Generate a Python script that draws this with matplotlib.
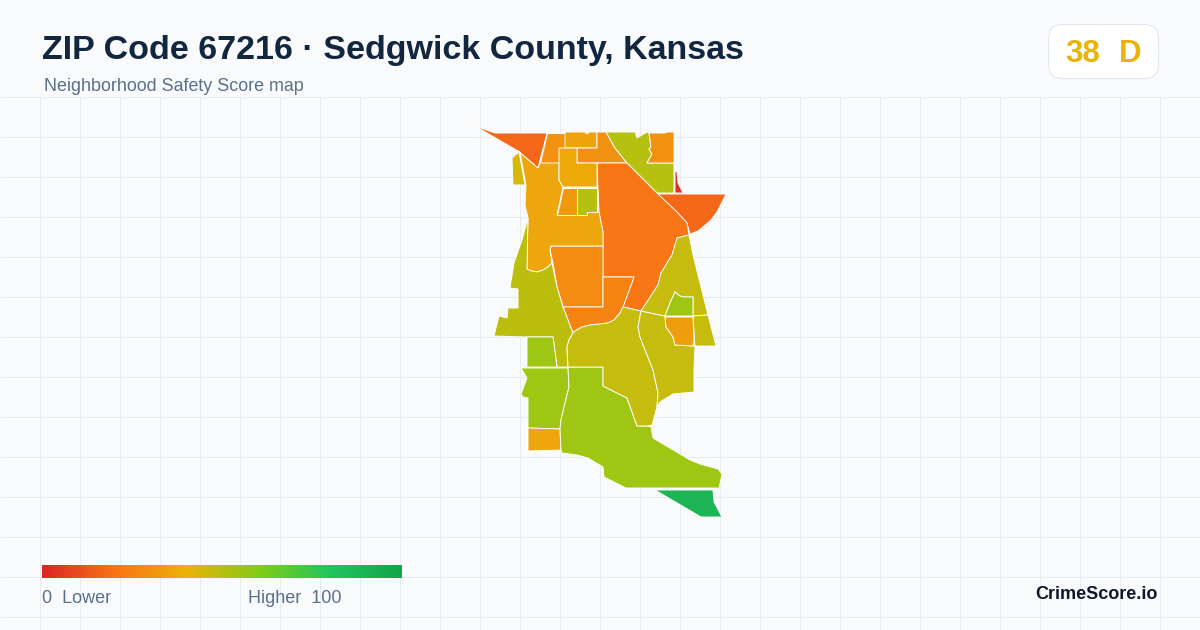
import numpy as np
import matplotlib
matplotlib.use("Agg")
import matplotlib.pyplot as plt
from matplotlib.colors import LinearSegmentedColormap, Normalize
from matplotlib.patches import FancyBboxPatch, Polygon

plt.rcParams['font.family'] = ['Liberation Sans', 'DejaVu Sans']

TITLE = "ZIP Code 67216 · Sedgwick County, Kansas"
SUBTITLE = "Neighborhood Safety Score map"
SCORE_TEXT = "38"
GRADE_TEXT = "D"
BRAND = "CrimeScore.io"

# colour scale stops (score, colour)
scale_stops = [0, 20, 40, 60, 80, 100]
scale_colors = ["#dc2626", "#f97316", "#eab308", "#84cc16", "#22c55e", "#16a34a"]

# block groups: outline in map coordinates, and score
tract_nw = [(475,126),(495,133),(547,133),(538,168),(518,151)]
tract_top_a = [(547,133),(565,133),(565,148),(559,148),(559,163),(540,163)]
tract_top_b = [(565,132),(585,132),(587,134),(589,132),(597,132),(597,148),(565,148)]
tract_top_c = [(597,132),(606,132),(615,148),(627,163),(577,163),(577,148),(597,148)]
tract_north = [(606,132),(635,132),(637,138),(647,132),(649,133),(651,147),(649,149),(652,154),(647,163),(674,163),(674,193),(657,193),(627,163),(615,148)]
tract_ne = [(649,133),(665,133),(667,132),(674,132),(674,163),(647,163),(652,154),(649,149),(651,147)]
tract_strip = [(675,171),(677,172),(678,183),(683,193),(675,193)]
tract_east = [(657,194),(726,194),(717,212),(711,220),(704,226),(698,231),(690,234),(687,223),(677,212)]
tract_big = [(597,163),(627,163),(657,193),(677,212),(687,223),(689,235),(677,238),(672,255),(661,273),(658,285),(641,311),(623,307),(634,277),(603,277),(603,232),(599,212)]
tract_block = [(551,246),(603,246),(603,307),(563,307),(557,287),(553,263),(550,250)]
tract_ell = [(603,277),(634,277),(623,307),(620,313),(614,320),(608,323),(600,324),(590,325),(582,327),(575,331),(573,333),(563,307),(603,307)]
tract_gold = [(520,152),(518,151),(538,168),(540,163),(559,163),(559,180),(563,187),(557,215),(577,215),(587,215),(587,212),(597,212),(599,212),(603,232),(603,246),(551,246),(550,250),(552,263),(548,267),(543,270),(537,272),(532,271),(527,269),(527,255),(528,218),(525,205),(526,185)]
tract_sliver = [(512,158),(519,152),(525,185),(513,185)]
tract_west = [(528,218),(527,269),(532,271),(537,272),(543,270),(548,267),(552,263),(557,287),(563,307),(573,333),(569,340),(567,347),(568,367),(557,367),(553,337),(527,337),(494,336),(499,316),(507,318),(508,308),(518,308),(518,289),(510,288),(514,263),(522,240)]
tract_lime_a = [(527,337),(553,337),(557,367),(527,367)]
tract_sw = [(521,368),(568,368),(569,387),(565,403),(561,420),(560,429),(528,428),(528,398),(523,397),(521,394),(527,378)]
tract_gold_s = [(528,428),(560,429),(561,450),(528,451)]
tract_south = [(568,367),(603,367),(603,386),(627,398),(637,426),(648,426),(651,427),(653,438),(690,460),(700,464),(718,469),(722,474),(719,488),(626,488),(604,477),(603,467),(588,458),(577,455),(562,453),(561,450),(560,429),(561,420),(565,403),(569,387)]
tract_green = [(655,490),(713,490),(714,502),(722,517),(701,517)]
tract_central = [(573,333),(575,331),(582,327),(590,325),(600,324),(608,323),(614,320),(620,313),(623,307),(641,311),(638,327),(640,337),(653,370),(658,393),(657,407),(652,425),(648,426),(637,426),(627,398),(603,386),(603,367),(568,367),(567,347),(569,340)]
tract_se = [(641,311),(665,316),(666,327),(673,337),(675,345),(695,346),(694,370),(694,392),(673,394),(660,402),(657,407),(658,393),(653,370),(640,337),(638,327)]
tract_ne_low = [(677,238),(689,235),(693,255),(708,315),(693,316),(693,297),(684,297),(680,296),(675,292),(670,303),(665,316),(641,311),(658,285),(661,273),(672,255)]
tract_notch = [(675,292),(680,296),(684,297),(693,297),(693,316),(665,316),(670,303)]
tract_right = [(693,316),(708,315),(716,346),(695,346)]
tract_inner = [(665,317),(693,317),(694,340),(693,346),(675,345),(673,337),(666,327)]
tract_mid = [(559,148),(577,148),(577,163),(597,163),(597,187),(563,187),(559,180)]
tract_small = [(563,188),(577,188),(577,215),(557,215)]
tract_lime_b = [(577,188),(597,188),(597,212),(587,212),(587,215),(577,215)]

tracts = [tract_nw, tract_top_a, tract_top_b, tract_top_c, tract_north, tract_ne, tract_strip,
          tract_east, tract_big, tract_block, tract_ell, tract_gold, tract_sliver, tract_west,
          tract_lime_a, tract_sw, tract_gold_s, tract_south, tract_green, tract_central, tract_se,
          tract_ne_low, tract_notch, tract_right, tract_inner, tract_mid, tract_small, tract_lime_b]
scores = [17, 30, 35, 29, 50, 29, 3,
          17, 21, 28, 25, 36, 44, 49,
          55, 55, 36, 55, 90, 47, 47,
          47, 55, 47, 33, 37, 32, 50]

W, H = 1200, 630
fig = plt.figure(figsize=(12, 6.3), dpi=100, facecolor="#f8fafc")
ax = fig.add_axes([0, 0, 1, 1])
ax.set_facecolor("#f8fafc")
ax.axis("off")

cmap = LinearSegmentedColormap.from_list(
    "safety", [(s / 100, c) for s, c in zip(scale_stops, scale_colors)])
norm = Normalize(0, 100)

# background grid
for x in range(40, W, 40):
    ax.plot([x, x], [97, H], color="#e4ecf2", lw=0.72, zorder=1,
            solid_capstyle="butt", snap=True)
for y in range(97, H, 40):
    ax.plot([0, W], [y, y], color="#e4ecf2", lw=0.72, zorder=1,
            solid_capstyle="butt", snap=True)

# map
for pts, sc in zip(tracts, scores):
    ax.add_patch(Polygon(pts, closed=True, facecolor=cmap(norm(sc)), edgecolor="white",
                         lw=0.65, joinstyle="round", zorder=2))

# header
ax.text(42, 59, TITLE, fontsize=24.45, fontweight="bold", color="#12263f", va="baseline", zorder=5)
ax.text(44, 91, SUBTITLE, fontsize=12.9, color="#5b6f8c", va="baseline", zorder=5)

# score badge
ax.add_patch(FancyBboxPatch((1062.5, 38.5), 82, 26, boxstyle="round,pad=14,rounding_size=14",
                            fc="white", ec="#e2e8f0", lw=0.8, zorder=4))
ax.text(1065.5, 62, SCORE_TEXT, fontsize=22.5, fontweight="bold", color="#eab308",
        va="baseline", zorder=5)
ax.text(1118.5, 62, GRADE_TEXT, fontsize=22.5, fontweight="bold", color="#eab308",
        va="baseline", zorder=5)

# colour legend
grad = np.linspace(0, 100, 361).reshape(1, -1)
ax.imshow(grad, cmap=cmap, norm=norm, extent=(42, 402, 578, 565), aspect="auto", zorder=3)
ax.text(42, 603, "0  Lower", fontsize=12.95, color="#5b6f8c", va="baseline", zorder=5)
ax.text(342, 603, "Higher  100", fontsize=12.95, color="#5b6f8c", va="baseline", ha="right", zorder=5)
ax.text(1158, 599, BRAND, fontsize=13, fontweight="bold", color="#0f172a", va="baseline", ha="right", zorder=5)

ax.set_xlim(0, W)
ax.set_ylim(H, 0)
fig.savefig("out.png", dpi=100, facecolor=fig.get_facecolor())
